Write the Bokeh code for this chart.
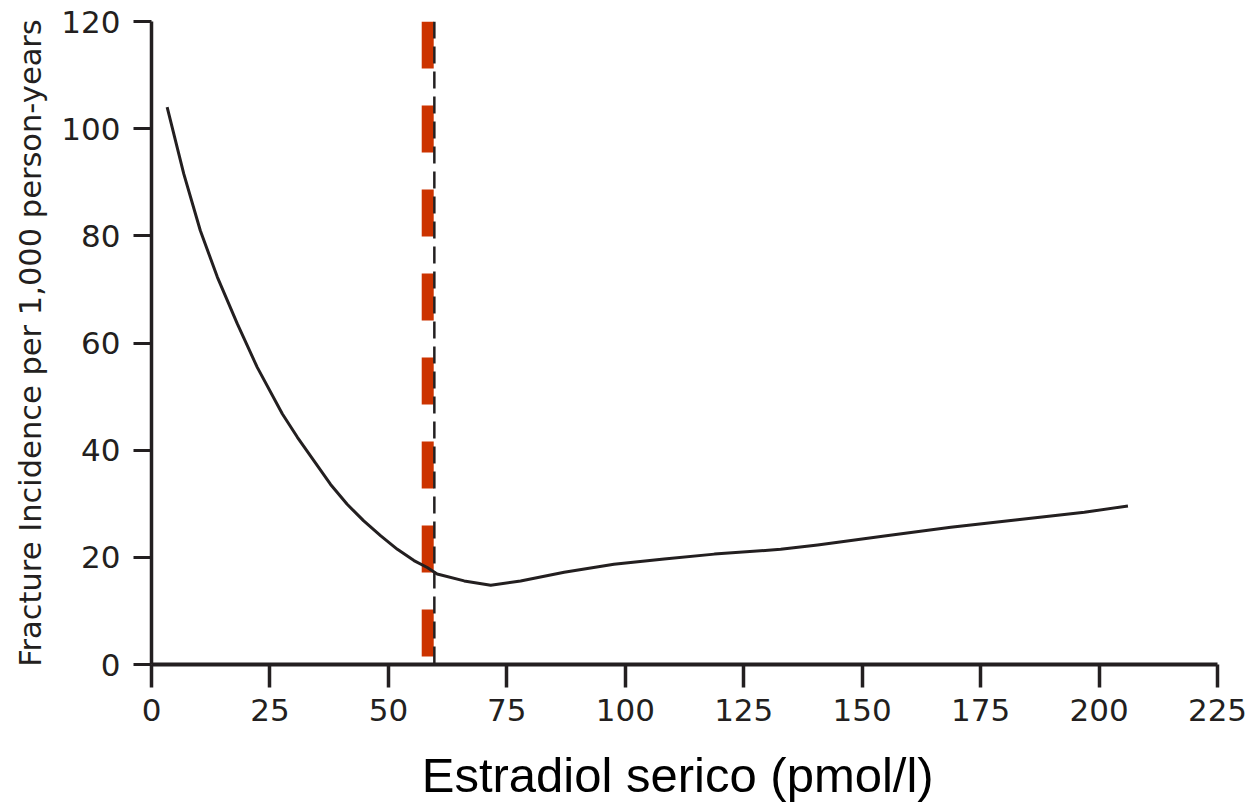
from bokeh.plotting import figure
from bokeh.models import Range1d, FixedTicker
from bokeh.embed import file_html
from bokeh.resources import INLINE

# Curve
estradiol = [3.3, 6.8, 10.3, 13.9, 18.1, 22.3, 27.6, 30.8, 34.3, 37.8, 41.3, 44.8,
             48.4, 51.9, 55.4, 58.2, 60.3, 66.0, 71.6, 77.9, 87.1, 97.6, 108.2,
             118.8, 132.8, 140.6, 154.7, 168.7, 182.8, 196.9, 206.1]
incidence = [104.0, 91.6, 81.0, 72.3, 63.6, 55.5, 46.8, 42.4, 38.0, 33.6, 29.9, 26.8,
             24.0, 21.5, 19.4, 18.1, 16.9, 15.6, 14.8, 15.6, 17.2, 18.7, 19.7,
             20.6, 21.5, 22.3, 24.0, 25.6, 27.0, 28.4, 29.6]

red_threshold = 58.3
black_threshold = 59.7

x_ticks = [0, 25, 50, 75, 100, 125, 150, 175, 200, 225]
y_ticks = [0, 20, 40, 60, 80, 100, 120]

INK = "#231f20"

p = figure(width=1251, height=807, output_backend="svg", toolbar_location=None,
           x_range=Range1d(0, 225), y_range=Range1d(0, 120),
           min_border_left=151, min_border_right=34, min_border_top=21,
           min_border_bottom=143)
p.outline_line_color = None
p.grid.visible = False
p.background_fill_color = "white"
p.border_fill_color = "white"

# threshold lines
p.line([red_threshold, red_threshold], [120, 0], line_color="#cc3300",
       line_width=12, line_dash="47 37")
p.line([black_threshold, black_threshold], [120, 0], line_color=INK,
       line_width=2.5, line_dash="17 8")

# curve
p.line(estradiol, incidence, line_color=INK, line_width=3, line_join="round")

# axes
p.xaxis.ticker = FixedTicker(ticks=x_ticks)
p.yaxis.ticker = FixedTicker(ticks=y_ticks)
for ax in (p.xaxis[0], p.yaxis[0]):
    ax.axis_line_color = INK
    ax.major_tick_line_color = INK
    ax.minor_tick_line_color = None
    ax.major_tick_in = 0
    ax.major_label_text_font = "DejaVu Sans"
    ax.major_label_text_font_size = "31px"
    ax.major_label_text_color = INK

p.xaxis.axis_line_width = 4
p.xaxis.major_tick_line_width = 3.5
p.xaxis.major_tick_out = 23
p.xaxis.major_label_standoff = 11
p.xaxis.axis_label = "Estradiol serico  (pmol/l)"
p.xaxis.axis_label_text_font = "Liberation Sans"
p.xaxis.axis_label_text_font_size = "49px"
p.xaxis.axis_label_text_font_style = "normal"
p.xaxis.axis_label_text_color = "black"
p.xaxis.axis_label_standoff = 24

p.yaxis.axis_line_width = 3.5
p.yaxis.major_tick_line_width = 3
p.yaxis.major_tick_out = 18
p.yaxis.major_label_standoff = 13
p.yaxis.axis_label = "Fracture Incidence per 1,000 person-years"
p.yaxis.axis_label_text_font = "DejaVu Sans"
p.yaxis.axis_label_text_font_size = "30.5px"
p.yaxis.axis_label_text_font_style = "normal"
p.yaxis.axis_label_text_color = INK
p.yaxis.axis_label_standoff = 10

open("out.html", "w").write(file_html(p, INLINE))
